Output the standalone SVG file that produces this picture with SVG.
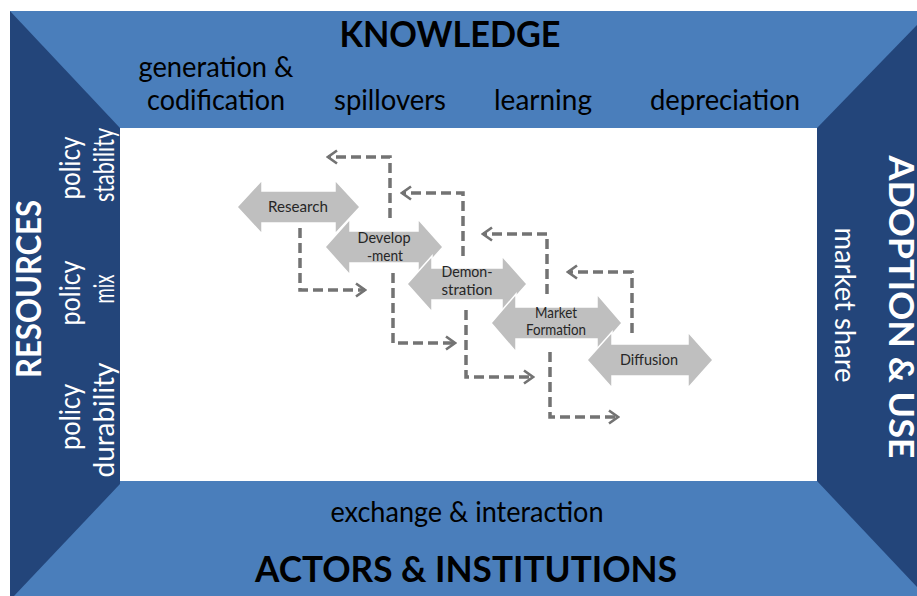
<svg xmlns="http://www.w3.org/2000/svg" width="917" height="596" viewBox="0 0 917 596">
  <style>
    .band { fill: #4a7ebb; }
    .side { fill: #23457a; }
    .lbl { font-family: Lato, "Liberation Sans", sans-serif; font-size: 28px; fill: #000; text-anchor: middle; }
    .title { font-family: Lato, "Liberation Sans", sans-serif; font-size: 36px; font-weight: bold; fill: #000; text-anchor: middle; }
    .wlbl { font-family: Lato, "Liberation Sans", sans-serif; font-size: 28px; fill: #fff; text-anchor: middle; }
    .wtitle { font-family: Lato, "Liberation Sans", sans-serif; font-size: 35px; font-weight: bold; fill: #fff; text-anchor: middle; }
    .step { fill: #bfbfbf; stroke: #fff; stroke-width: 1.5; stroke-linejoin: miter; }
    .steptxt { font-family: Lato, "Liberation Sans", sans-serif; font-size: 15px; fill: #262626; text-anchor: middle; }
    .link { fill: none; stroke: #737373; stroke-width: 3.5; stroke-dasharray: 10 5; marker-end: url(#chev); }
  </style>
  <defs>
    <marker id="chev" markerUnits="userSpaceOnUse" viewBox="-12 -8 14 16" markerWidth="14" markerHeight="16" refX="0" refY="0" orient="auto">
      <path d="M-9,-6.5 L0,0 L-9,6.5" fill="none" stroke="#737373" stroke-width="2.6"/>
    </marker>
  </defs>

  <!-- frame -->
  <g id="frame">
    <rect x="10" y="11" width="907" height="585" class="band"/>
    <rect x="120" y="128" width="697" height="353" fill="#fff"/>
    <polygon class="side" points="10,11 120,128 120,484 14,596 10,596"/>
    <polygon class="side" points="817,128 917,25 917,587 817,481"/>
  </g>

  <!-- knowledge band -->
  <g id="knowledge">
    <text class="title" x="450" y="47" textLength="221" lengthAdjust="spacingAndGlyphs">KNOWLEDGE</text>
    <text class="lbl" x="216" y="77" textLength="155" lengthAdjust="spacingAndGlyphs">generation &amp;</text>
    <text class="lbl" x="216" y="110" textLength="138" lengthAdjust="spacingAndGlyphs">codification</text>
    <text class="lbl" x="390" y="110" textLength="112" lengthAdjust="spacingAndGlyphs">spillovers</text>
    <text class="lbl" x="543" y="110" textLength="98" lengthAdjust="spacingAndGlyphs">learning</text>
    <text class="lbl" x="725" y="110" textLength="150" lengthAdjust="spacingAndGlyphs">depreciation</text>
  </g>

  <!-- actors band -->
  <g id="actors">
    <text class="lbl" x="467" y="522" textLength="273" lengthAdjust="spacingAndGlyphs">exchange &amp; interaction</text>
    <text class="title" x="466" y="582" textLength="422" lengthAdjust="spacingAndGlyphs">ACTORS &amp; INSTITUTIONS</text>
  </g>

  <!-- resources side -->
  <g id="resources">
    <text class="wtitle" transform="translate(41,289) rotate(-90)" textLength="178" lengthAdjust="spacingAndGlyphs">RESOURCES</text>
    <text class="wlbl" transform="translate(80,168) rotate(-90)" textLength="63" lengthAdjust="spacingAndGlyphs">policy</text>
    <text class="wlbl" transform="translate(114,165) rotate(-90)" textLength="74" lengthAdjust="spacingAndGlyphs">stability</text>
    <text class="wlbl" transform="translate(80,293) rotate(-90)" textLength="65" lengthAdjust="spacingAndGlyphs">policy</text>
    <text class="wlbl" transform="translate(114,289) rotate(-90)" textLength="29" lengthAdjust="spacingAndGlyphs">mix</text>
    <text class="wlbl" transform="translate(80,417) rotate(-90)" textLength="66" lengthAdjust="spacingAndGlyphs">policy</text>
    <text class="wlbl" transform="translate(114,420) rotate(-90)" textLength="115" lengthAdjust="spacingAndGlyphs">durability</text>
  </g>

  <!-- adoption side -->
  <g id="adoption">
    <text class="wtitle" transform="translate(889,307) rotate(90)" textLength="303" lengthAdjust="spacingAndGlyphs">ADOPTION &amp; USE</text>
    <text class="wlbl" transform="translate(835,305) rotate(90)" textLength="155" lengthAdjust="spacingAndGlyphs">market share</text>
  </g>

  <!-- innovation stages -->
  <g id="research">
    <polygon class="step" points="237,207 262,180 262,191 335,191 335,180 360,207 335,234 335,223 262,223 262,234"/>
    <text class="steptxt" x="298" y="212" textLength="60" lengthAdjust="spacingAndGlyphs">Research</text>
  </g>
  <g id="development">
    <polygon class="step" points="325,247 350,219 350,231 418,231 418,219 443,247 418,275 418,263 350,263 350,275"/>
    <text class="steptxt" x="384" y="243" textLength="53" lengthAdjust="spacingAndGlyphs">Develop</text>
    <text class="steptxt" x="385" y="261" textLength="36" lengthAdjust="spacingAndGlyphs">-ment</text>
  </g>
  <g id="demonstration">
    <polygon class="step" points="407,284 432,256 432,268 502,268 502,256 527,284 502,312 502,300 432,300 432,312"/>
    <text class="steptxt" x="467" y="277" textLength="51" lengthAdjust="spacingAndGlyphs">Demon-</text>
    <text class="steptxt" x="467" y="295" textLength="51" lengthAdjust="spacingAndGlyphs">stration</text>
  </g>
  <g id="market-formation">
    <polygon class="step" points="491,323 516,294 516,307 597,307 597,294 622,323 597,352 597,339 516,339 516,352"/>
    <text class="steptxt" x="556" y="318" textLength="42" lengthAdjust="spacingAndGlyphs">Market</text>
    <text class="steptxt" x="556" y="335" textLength="60" lengthAdjust="spacingAndGlyphs">Formation</text>
  </g>
  <g id="diffusion">
    <polygon class="step" points="587,360 612,332 612,344 688,344 688,332 713,360 688,388 688,376 612,376 612,388"/>
    <text class="steptxt" x="649" y="365" textLength="58" lengthAdjust="spacingAndGlyphs">Diffusion</text>
  </g>

  <!-- feed-forward and feedback links -->
  <g id="connectors">
    <path class="link" d="M300,228 V290 H365"/>
    <path class="link" d="M393,273 V343 H455"/>
    <path class="link" d="M466,310 V377 H533"/>
    <path class="link" d="M550,352 V417 H618"/>
    <path class="link" d="M390,218 V157 H328"/>
    <path class="link" d="M463,256 V193 H402"/>
    <path class="link" d="M547,294 V234 H483"/>
    <path class="link" d="M632,333 V272 H568"/>
  </g>
</svg>
